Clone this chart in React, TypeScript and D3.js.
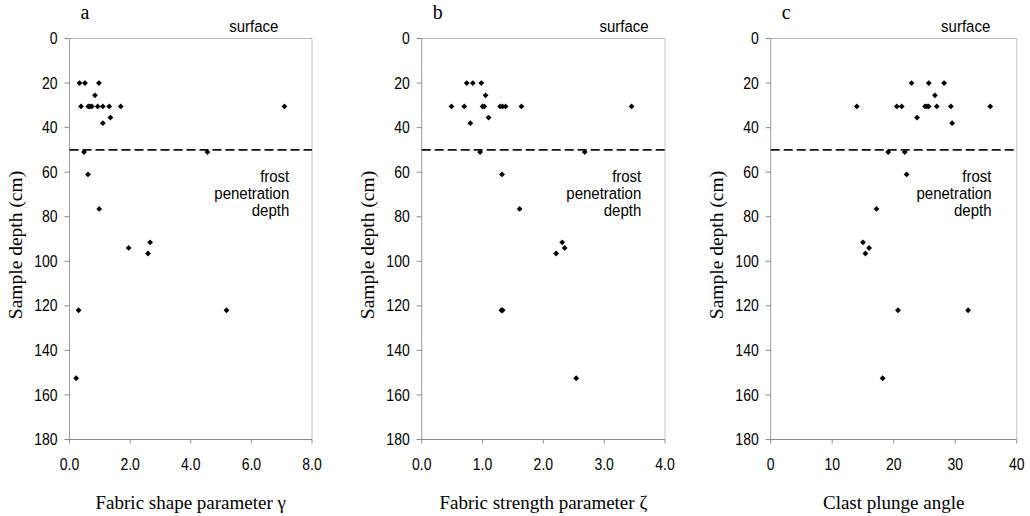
import React from "react";
import * as d3 from "d3";

// ---- data ----
const depthTicks = [0, 20, 40, 60, 80, 100, 120, 140, 160, 180];

const shapeTicks = [0, 2, 4, 6, 8];
const shapeGamma = [0.33, 0.51, 0.97, 0.84, 0.38, 0.62, 0.68, 0.74, 0.93, 1.1, 1.31, 1.69, 7.09, 1.35, 1.1, 0.48, 4.55, 0.61, 0.98, 1.95, 2.59, 2.66, 0.3, 5.18, 0.22];
const shapeDepth = [20, 20, 20, 25.5, 30.5, 30.5, 30.5, 30.5, 30.5, 30.5, 30.5, 30.5, 30.5, 35.5, 38, 51, 51, 61, 76.5, 94, 96.5, 91.5, 122, 122, 152.5];

const strengthTicks = [0, 1, 2, 3, 4];
const strengthZeta = [0.74, 0.84, 0.98, 1.05, 0.49, 0.7, 1.0, 1.03, 1.29, 1.33, 1.38, 1.64, 3.45, 1.1, 0.8, 0.96, 2.68, 1.32, 1.61, 2.31, 2.35, 2.21, 1.31, 1.33, 2.54];
const strengthDepth = [20, 20, 20, 25.5, 30.5, 30.5, 30.5, 30.5, 30.5, 30.5, 30.5, 30.5, 30.5, 35.5, 38, 51, 51, 61, 76.5, 91.5, 94, 96.5, 122, 122, 152.5];

const plungeTicks = [0, 10, 20, 30, 40];
const plungeAngle = [22.9, 25.7, 28.2, 26.7, 14.0, 20.5, 21.3, 25.1, 25.4, 25.7, 27.0, 29.3, 35.7, 23.8, 29.5, 19.1, 21.8, 22.1, 17.2, 15.0, 16.0, 15.4, 20.7, 32.1, 18.2];
const plungeDepth = [20, 20, 20, 25.5, 30.5, 30.5, 30.5, 30.5, 30.5, 30.5, 30.5, 30.5, 30.5, 35.5, 38, 51, 51, 61, 76.5, 91.5, 94, 96.5, 122, 122, 152.5];

const frostDepth = 50;
const frostLines = ["frost", "penetration", "depth"];

// ---- layout ----
const W = 1030;
const H = 516;
const TOP = 38.5;
const BOTTOM = 439.5;
const SANS = "'Liberation Sans', Arial, sans-serif";
const SERIF = "'Liberation Serif', 'Times New Roman', serif";
const STRETCH = 1.12;
const LINE_GAP = 17;

type PanelCfg = {
  letter: string;
  left: number;
  right: number;
  max: number;
  ticks: number[];
  fmt: (v: number) => string;
  xs: number[];
  ys: number[];
  title: string;
  surfaceX: number;
  frostX: number;
};

const panels: PanelCfg[] = [
  { letter: "a", left: 69.5, right: 312, max: 8, ticks: shapeTicks, fmt: d3.format(".1f"), xs: shapeGamma, ys: shapeDepth, title: "Fabric shape parameter γ", surfaceX: 6.89, frostX: 7.25 },
  { letter: "b", left: 421.7, right: 665, max: 4, ticks: strengthTicks, fmt: d3.format(".1f"), xs: strengthZeta, ys: strengthDepth, title: "Fabric strength parameter ζ", surfaceX: 3.73, frostX: 3.61 },
  { letter: "c", left: 770.7, right: 1016.7, max: 40, ticks: plungeTicks, fmt: d3.format("d"), xs: plungeAngle, ys: plungeDepth, title: "Clast plunge angle", surfaceX: 35.7, frostX: 35.9 },
];

const markerPath = d3.symbol(d3.symbolSquare, 17)() as string;

function SansText({ x, y, anchor, size, children, middle }: { x: number; y: number; anchor: string; size: number; children: React.ReactNode; middle?: boolean }) {
  return (
    <g transform={`translate(${x},${y}) scale(1,${STRETCH})`}>
      <text x={0} y={0} dy={middle ? "0.36em" : undefined} textAnchor={anchor} fontFamily={SANS} fontSize={size} fill="#000">
        {children}
      </text>
    </g>
  );
}

function Panel({ p }: { p: PanelCfg }) {
  const x = d3.scaleLinear().domain([0, p.max]).range([p.left, p.right]);
  const y = d3.scaleLinear().domain([0, 180]).range([TOP, BOTTOM]);
  const cx = (p.left + p.right) / 2;
  return (
    <g>
      {/* frame */}
      <line x1={p.left} x2={p.right} y1={TOP} y2={TOP} stroke="#b8b8b8" strokeWidth={1} />
      <line x1={p.right} x2={p.right} y1={TOP} y2={BOTTOM} stroke="#c4c4c4" strokeWidth={1} />
      <line x1={p.left} x2={p.left} y1={TOP} y2={BOTTOM} stroke="#9a9a9a" strokeWidth={1} />
      <line x1={p.left} x2={p.right} y1={BOTTOM} y2={BOTTOM} stroke="#8a8a8a" strokeWidth={1} />
      {/* y ticks */}
      {depthTicks.map((t) => (
        <g key={"y" + t}>
          <line x1={p.left - 5} x2={p.left} y1={y(t)} y2={y(t)} stroke="#8a8a8a" />
          <SansText x={p.left - 12} y={y(t)} anchor="end" size={14} middle>
            {t}
          </SansText>
        </g>
      ))}
      {/* x ticks */}
      {p.ticks.map((t) => (
        <g key={"x" + t}>
          <line x1={x(t)} x2={x(t)} y1={BOTTOM} y2={BOTTOM + 4} stroke="#8a8a8a" />
          <SansText x={x(t)} y={470} anchor="middle" size={14}>
            {p.fmt(t)}
          </SansText>
        </g>
      ))}
      {/* frost line */}
      <line x1={p.left} x2={p.right} y1={y(frostDepth)} y2={y(frostDepth)} stroke="#111" strokeWidth={1.8} strokeDasharray="9,4" />
      {/* points */}
      {p.xs.map((v, i) => (
        <path key={"p" + i} d={markerPath} transform={`translate(${x(v)},${y(p.ys[i])}) rotate(45)`} fill="#000" />
      ))}
      {/* annotations */}
      <text x={p.left + 11} y={19} fontFamily={SERIF} fontSize={20} fill="#000">{p.letter}</text>
      <SansText x={x(p.surfaceX)} y={32} anchor="end" size={15}>surface</SansText>
      <g transform={`translate(${x(p.frostX)},182) scale(1,${STRETCH})`}>
        <text textAnchor="end" fontFamily={SANS} fontSize={15} fill="#000">
          {frostLines.map((l, i) => (
            <tspan key={l} x={0} y={(i * LINE_GAP) / STRETCH}>{l}</tspan>
          ))}
        </text>
      </g>
      {/* axis titles */}
      <text transform={`translate(${p.left - 48},245) rotate(-90)`} textAnchor="middle" fontFamily={SERIF} fontSize={19.5} fill="#000">
        Sample depth (cm)
      </text>
      <text x={cx} y={509} textAnchor="middle" fontFamily={SERIF} fontSize={19} fill="#000">
        {p.title}
      </text>
    </g>
  );
}

export default function App() {
  return (
    <svg width={W} height={H} viewBox={`0 0 ${W} ${H}`} style={{ position: "absolute", left: 0, top: 0, background: "#fff" }}>
      <rect width={W} height={H} fill="#fff" />
      {panels.map((p) => (
        <Panel key={p.letter} p={p} />
      ))}
    </svg>
  );
}
